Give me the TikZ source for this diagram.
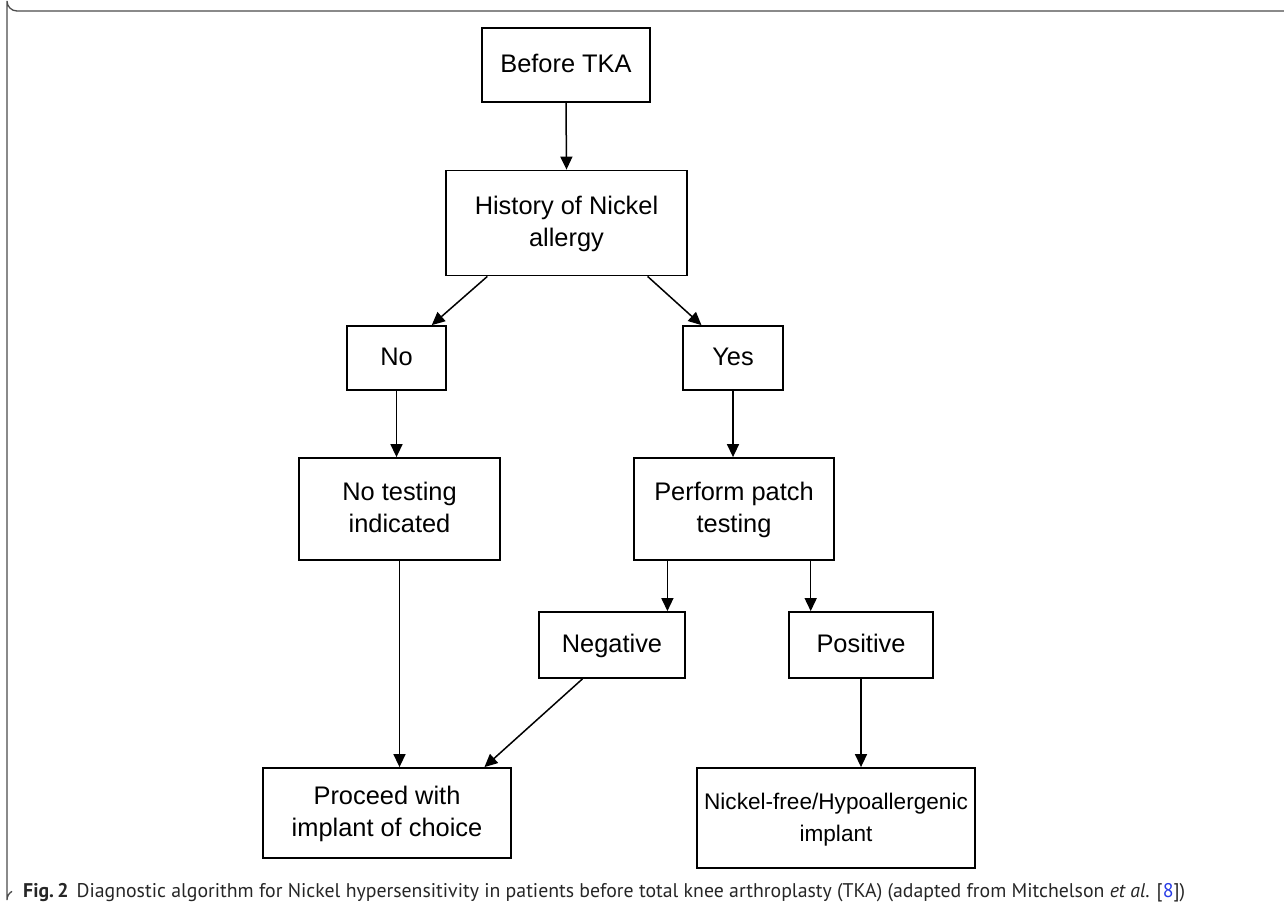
\documentclass[tikz,border=0pt]{standalone}
\usepackage{fontspec}
\setmainfont{Liberation Sans}
\newfontfamily\capfont{PT Sans}
\usetikzlibrary{arrows.meta,calc}
\definecolor{refblue}{RGB}{40,60,230}
\newcommand{\mytop}{\rule{0pt}{22pt}}
\newcommand{\mybot}{\rule[-7pt]{0pt}{0pt}}
\begin{document}
\begin{tikzpicture}[x=1pt,y=-1pt,
  box/.style={draw,line width=1.8pt,align=center,inner sep=0pt,font=\fontsize{25.4}{32}\selectfont},
  smallbox/.style={box,font=\fontsize{22.6}{32.5}\selectfont},
  arr/.style={line width=1.5pt,-{Triangle[length=13pt,width=12pt]}},
  frame/.style={draw=black!70,line width=1.3pt}]
\useasboundingbox (0,0) rectangle (1284,913);
\draw[frame] (1284,11) -- (17,11) arc[start angle=90,end angle=180,radius=10] -- (7,900) arc[start angle=180,end angle=240,radius=10];
\node[box,minimum width=168pt,minimum height=74pt] (before) at (566,65) {\mytop Before TKA\mybot};
\node[box,minimum width=241pt,minimum height=105pt] (hist) at (566.5,223) {\mytop History of Nickel\\allergy\mybot};
\node[box,minimum width=99pt,minimum height=64pt] (no) at (396.5,358) {\mytop No\mybot};
\node[box,minimum width=100pt,minimum height=64pt] (yes) at (733,358) {\mytop Yes\mybot};
\node[box,minimum width=201pt,minimum height=102pt] (notest) at (399.5,509) {\mytop No testing\\indicated\mybot};
\node[box,minimum width=200pt,minimum height=102pt] (patch) at (734,509) {\mytop Perform patch\\testing\mybot};
\node[box,minimum width=146pt,minimum height=66pt] (neg) at (612,645) {\mytop Negative\mybot};
\node[box,minimum width=144pt,minimum height=66pt] (pos) at (861,645) {\mytop Positive\mybot};
\node[box,minimum width=248pt,minimum height=90pt] (proceed) at (387,813) {\mytop Proceed with\\implant of choice\mybot};
\node[smallbox,minimum width=278pt,minimum height=100pt] (nifree) at (836,818) {\mytop Nickel-free/Hypoallergenic\\implant\mybot};
\draw[arr] (before.south) -- (hist.north);
\draw[arr] ($(hist.south west)!0.174!(hist.south east)$) -- ($(no.north west)!0.85!(no.north east)$);
\draw[arr] ($(hist.south west)!0.834!(hist.south east)$) -- ($(yes.north west)!0.19!(yes.north east)$);
\draw[arr] (no.south) -- (no.south |- notest.north);
\draw[arr] (yes.south) -- (yes.south |- patch.north);
\draw[arr] ($(patch.south west)!0.17!(patch.south east)$) coordinate (p1) -- (p1 |- neg.north);
\draw[arr] ($(patch.south west)!0.88!(patch.south east)$) coordinate (p2) -- (p2 |- pos.north);
\draw[arr] (notest.south) -- (notest.south |- proceed.north);
\draw[arr] ($(neg.south west)!0.30!(neg.south east)$) -- ($(proceed.north west)!0.89!(proceed.north east)$);
\draw[arr] (pos.south) -- (pos.south |- nifree.north);
\node[anchor=base west,inner sep=0pt,text=black!85,font=\capfont\fontsize{19.8}{24}\selectfont] (cap) at (23,897) {\textbf{Fig.\,2}\hspace{8pt}Diagnostic algorithm for Nickel hypersensitivity in patients before total knee arthroplasty (TKA) (adapted from Mitchelson \textit{et al}. [\textcolor{refblue}{8}])};
\end{tikzpicture}
\end{document}
